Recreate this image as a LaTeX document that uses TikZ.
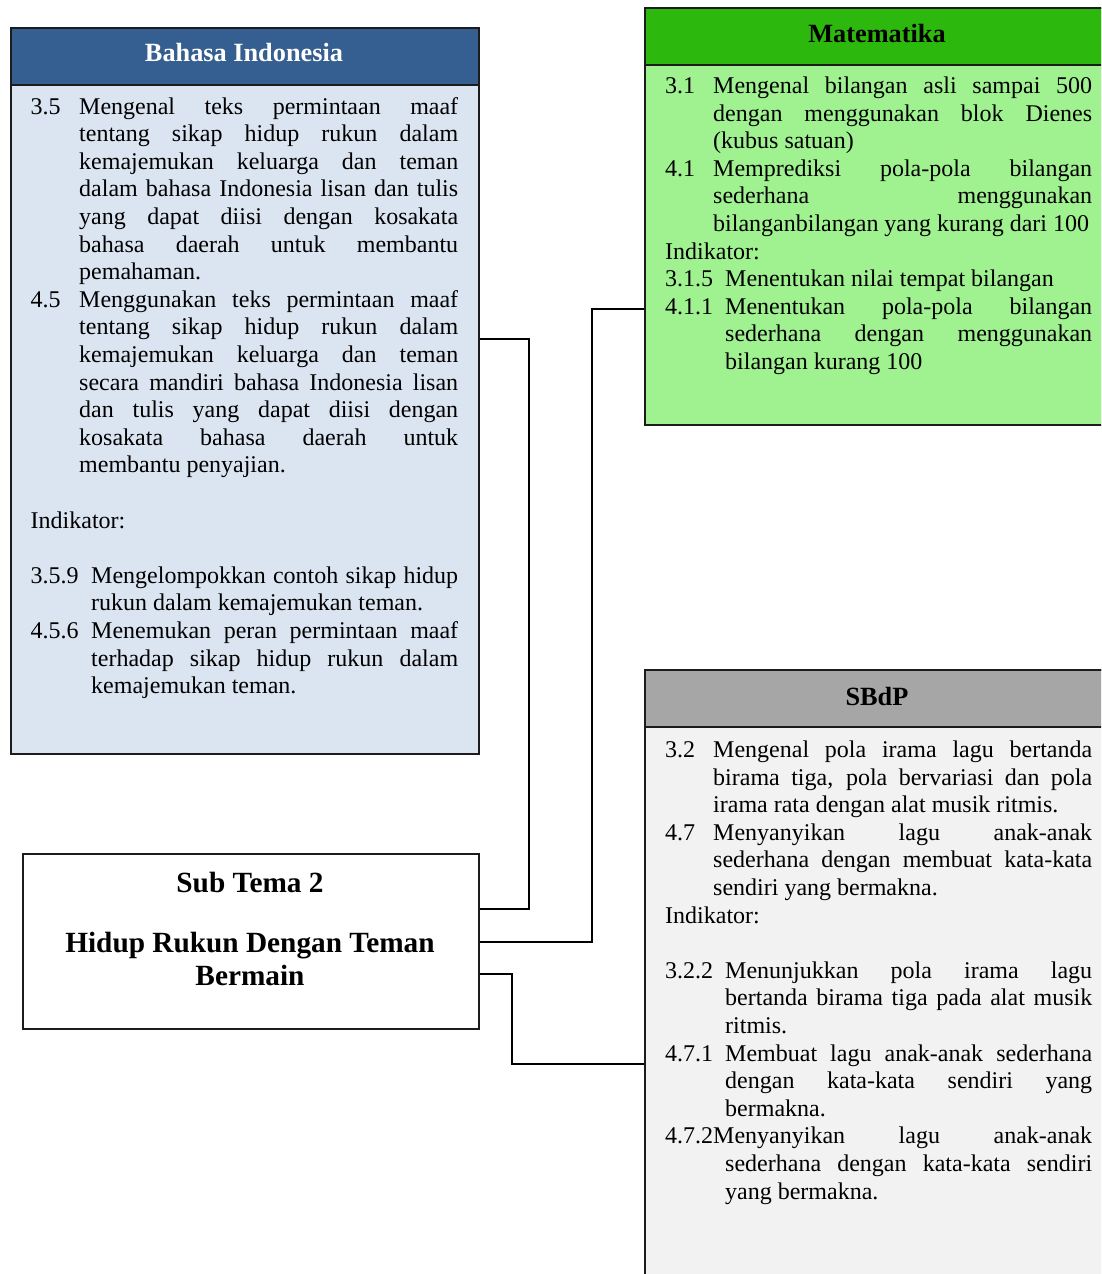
\documentclass[tikz,border=0pt]{standalone}
\usepackage{fontspec}
\setmainfont{Liberation Serif}
\usetikzlibrary{calc}

\definecolor{bihead}{HTML}{365F91}
\definecolor{bibody}{HTML}{DBE5F1}
\definecolor{mthead}{HTML}{2CB80C}
\definecolor{mtbody}{HTML}{A0F291}
\definecolor{sbhead}{HTML}{A6A6A6}
\definecolor{sbbody}{HTML}{F2F2F2}
\definecolor{edge}{HTML}{1C1C1C}

% justified line: all interword spaces stretch equally
\newcommand\jsp{\spaceskip=0.25em plus 1fil\relax\xspaceskip=0.25em plus 1fil\relax}
% #1 hanging indent, #2 number label, #3 line text
\newcommand\JL[3]{\par\noindent\makebox[#1][l]{#2}\hbox to \dimexpr\hsize-#1\relax{\jsp #3}}
\newcommand\NL[3]{\par\noindent\makebox[#1][l]{#2}#3}
\newcommand\BL{\par\noindent\mbox{}}
\newcommand\bodytext[2]{\vtop{\hsize=#1\relax\parindent=0pt\parskip=0pt
  \fontsize{24}{27.6}\selectfont\baselineskip=27.6pt\lineskiplimit=-100pt\relax
  #2\par}}

\tikzset{
  panel/.style={draw=edge, line width=2pt, anchor=north west, inner sep=0pt},
  headtext/.style={font=\fontsize{26.3}{30}\selectfont\bfseries, inner sep=0pt, anchor=base},
  bodynode/.style={anchor=base west, inner sep=0pt, align=left},
  conn/.style={draw=black, line width=2pt},
}

\begin{document}
\begin{tikzpicture}[x=1pt, y=-1pt]
\useasboundingbox (0,0) rectangle (1101,1274);
\clip (0,0) rectangle (1101,1274);
\fill[white] (0,0) rectangle (1101,1274);

% ---------- Bahasa Indonesia ----------
\node[panel, fill=bibody, minimum width=468pt, minimum height=726pt] (bi) at (10,27) {};
\node[panel, fill=bihead, minimum width=468pt, minimum height=57pt] (bihd) at (10,27) {};
\node[headtext, text=white] (bititle) at (244,61.7) {Bahasa Indonesia};
\node[bodynode] (bitxt) at (30.5,114) {\bodytext{427.5pt}{%
  \JL{48.5pt}{3.5}{Mengenal teks permintaan maaf}
  \JL{48.5pt}{}{tentang sikap hidup rukun dalam}
  \JL{48.5pt}{}{kemajemukan keluarga dan teman}
  \JL{48.5pt}{}{dalam bahasa Indonesia lisan dan tulis}
  \JL{48.5pt}{}{yang dapat diisi dengan kosakata}
  \JL{48.5pt}{}{bahasa daerah untuk membantu}
  \NL{48.5pt}{}{pemahaman.}
  \JL{48.5pt}{4.5}{Menggunakan teks permintaan maaf}
  \JL{48.5pt}{}{tentang sikap hidup rukun dalam}
  \JL{48.5pt}{}{kemajemukan keluarga dan teman}
  \JL{48.5pt}{}{secara mandiri bahasa Indonesia lisan}
  \JL{48.5pt}{}{dan tulis yang dapat diisi dengan}
  \JL{48.5pt}{}{kosakata bahasa daerah untuk}
  \NL{48.5pt}{}{membantu penyajian.}
  \BL
  \NL{0pt}{}{Indikator:}
  \BL
  \JL{60.5pt}{3.5.9}{Mengelompokkan contoh sikap hidup}
  \NL{60.5pt}{}{rukun dalam kemajemukan teman.}
  \JL{60.5pt}{4.5.6}{Menemukan peran permintaan maaf}
  \JL{60.5pt}{}{terhadap sikap hidup rukun dalam}
  \NL{60.5pt}{}{kemajemukan teman.}}};

% ---------- Matematika ----------
\node[panel, fill=mtbody, minimum width=470pt, minimum height=417pt] (mt) at (644,7) {};
\node[panel, fill=mthead, minimum width=470pt, minimum height=57pt] (mthd) at (644,7) {};
\node[headtext] (mttitle) at (877,42.7) {Matematika};
\node[bodynode] (mttxt) at (665,93.5) {\bodytext{427pt}{%
  \JL{48pt}{3.1}{Mengenal bilangan asli sampai 500}
  \JL{48pt}{}{dengan menggunakan blok Dienes}
  \NL{48pt}{}{(kubus satuan)}
  \JL{48pt}{4.1}{Memprediksi pola-pola bilangan}
  \JL{48pt}{}{sederhana menggunakan}
  \NL{48pt}{}{bilanganbilangan yang kurang dari 100}
  \NL{0pt}{}{Indikator:}
  \NL{60pt}{3.1.5}{Menentukan nilai tempat bilangan}
  \JL{60pt}{4.1.1}{Menentukan pola-pola bilangan}
  \JL{60pt}{}{sederhana dengan menggunakan}
  \NL{60pt}{}{bilangan kurang 100}}};

% ---------- SBdP ----------
\node[panel, fill=sbbody, minimum width=470pt, minimum height=640pt] (sb) at (644,669) {};
\node[panel, fill=sbhead, minimum width=470pt, minimum height=57pt] (sbhd) at (644,669) {};
\node[headtext] (sbtitle) at (877,705) {SBdP};
\node[bodynode] (sbtxt) at (665,757.5) {\bodytext{427pt}{%
  \JL{48pt}{3.2}{Mengenal pola irama lagu bertanda}
  \JL{48pt}{}{birama tiga, pola bervariasi dan pola}
  \NL{48pt}{}{irama rata dengan alat musik ritmis.}
  \JL{48pt}{4.7}{Menyanyikan lagu anak-anak}
  \JL{48pt}{}{sederhana dengan membuat kata-kata}
  \NL{48pt}{}{sendiri yang bermakna.}
  \NL{0pt}{}{Indikator:}
  \BL
  \JL{60pt}{3.2.2}{Menunjukkan pola irama lagu}
  \JL{60pt}{}{bertanda birama tiga pada alat musik}
  \NL{60pt}{}{ritmis.}
  \JL{60pt}{4.7.1}{Membuat lagu anak-anak sederhana}
  \JL{60pt}{}{dengan kata-kata sendiri yang}
  \NL{60pt}{}{bermakna.}
  \JL{0pt}{}{4.7.2Menyanyikan lagu anak-anak}
  \JL{60pt}{}{sederhana dengan kata-kata sendiri}
  \NL{60pt}{}{yang bermakna.}}};

% ---------- Sub Tema ----------
\node[panel, fill=white, minimum width=456pt, minimum height=175pt] (sub) at (22,853) {};
\node[headtext, font=\fontsize{29.3}{32.3}\selectfont\bfseries] (subno) at (250,892) {Sub Tema 2};
\node[headtext, font=\fontsize{29.3}{32.3}\selectfont\bfseries, align=center] (subname) at (250,985)
  {Hidup Rukun Dengan Teman\\Bermain};

% ---------- connectors ----------
\coordinate (c1s) at ($(sub.north east)+(0,56)$);
\coordinate (c1e) at ($(bi.north east)+(0,312)$);
\draw[conn] (c1s) -| ($(c1e)+(49,0)$) -- (c1e);

\coordinate (c2s) at ($(sub.north east)+(0,89)$);
\coordinate (c2e) at ($(mt.north west)+(0,302)$);
\draw[conn] (c2s) -| ($(c2e)+(-52,0)$) -- (c2e);

\coordinate (c3s) at ($(sub.north east)+(0,121)$);
\coordinate (c3e) at ($(sb.north west)+(0,395)$);
\draw[conn] (c3s) -| ($(c3e)+(-132,0)$) -- (c3e);
\end{tikzpicture}
\end{document}
